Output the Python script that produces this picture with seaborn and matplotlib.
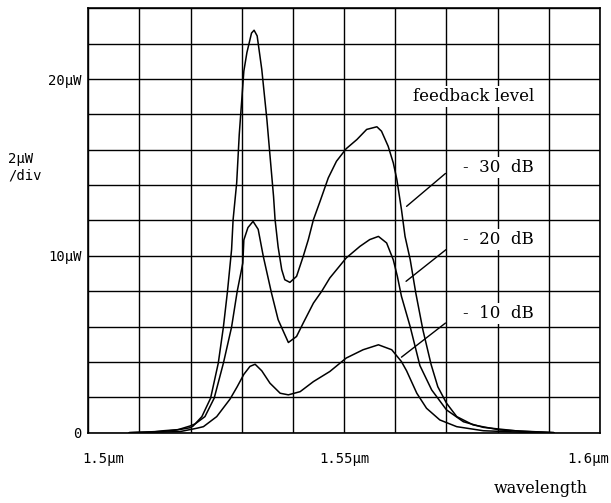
import numpy as np
import pandas as pd
import seaborn as sns
import matplotlib
matplotlib.use("Agg")
import matplotlib.pyplot as plt
from matplotlib.transforms import ScaledTranslation

# ---- data ----
wl_30 = [1.508, 1.5121, 1.5147, 1.5179, 1.5199, 1.5205, 1.5222, 1.5239, 1.5254, 1.5264,
         1.5272, 1.5280, 1.5283, 1.5290, 1.5295, 1.5304, 1.5310, 1.5319, 1.5324, 1.5330,
         1.5339, 1.5349, 1.5355, 1.5362, 1.5365, 1.5371, 1.5378, 1.5384, 1.5394, 1.5407,
         1.5420, 1.5430, 1.5440, 1.5453, 1.5469, 1.5485, 1.5504, 1.5525, 1.5544, 1.5564,
         1.5573, 1.5586, 1.5596, 1.5603, 1.5606, 1.5612, 1.5619, 1.5629, 1.5640, 1.5654,
         1.5670, 1.5683, 1.5700, 1.5720, 1.5752, 1.5805, 1.5869, 1.591]
p_30 = [0, 0.02, 0.11, 0.18, 0.28, 0.38, 0.91, 1.95, 3.93, 5.97,
        7.99, 10.35, 12.05, 14.13, 16.86, 20.45, 21.5, 22.6, 22.76, 22.44,
        20.55, 17.72, 15.7, 13.37, 12.05, 10.5, 9.22, 8.65, 8.5, 8.84,
        9.97, 10.92, 12.05, 13.09, 14.41, 15.35, 16.06, 16.58, 17.15, 17.3,
        17.05, 16.2, 15.26, 14.32, 13.75, 12.62, 11.1, 9.8, 7.9, 5.8,
        3.85, 2.6, 1.67, 0.91, 0.44, 0.15, 0.06, 0.0]

wl_20 = [1.508, 1.5147, 1.5173, 1.5199, 1.5209, 1.5228, 1.5246, 1.5264, 1.5280, 1.5291,
         1.5302, 1.5304, 1.5312, 1.5322, 1.5332, 1.5342, 1.5358, 1.5371, 1.5391, 1.5407,
         1.5420, 1.5440, 1.5456, 1.5472, 1.5504, 1.5531, 1.5550, 1.5567, 1.5583, 1.5596,
         1.5604, 1.5612, 1.5629, 1.5648, 1.5671, 1.5700, 1.5733, 1.5772, 1.5844, 1.591]
p_20 = [0, 0.08, 0.15, 0.38, 0.5, 0.91, 1.95, 3.93, 5.97, 7.99,
        9.6, 10.9, 11.6, 11.95, 11.5, 9.97, 7.9, 6.39, 5.1, 5.44,
        6.2, 7.33, 7.99, 8.75, 9.88, 10.54, 10.92, 11.1, 10.73, 9.78,
        8.84, 7.71, 6.0, 3.8, 2.42, 1.29, 0.62, 0.3, 0.08, 0.0]

wl_10 = [1.508, 1.5179, 1.5212, 1.5225, 1.5251, 1.5277, 1.5291, 1.5304, 1.5316, 1.5326,
         1.5339, 1.5355, 1.5375, 1.5391, 1.5414, 1.5440, 1.5472, 1.5504, 1.5537, 1.5567,
         1.5593, 1.5612, 1.5622, 1.5642, 1.5661, 1.5687, 1.5720, 1.5772, 1.5844, 1.591]
p_10 = [0, 0.06, 0.25, 0.34, 0.91, 1.9, 2.6, 3.3, 3.75, 3.87,
        3.5, 2.8, 2.23, 2.14, 2.32, 2.89, 3.46, 4.22, 4.69, 4.97,
        4.69, 4.02, 3.5, 2.23, 1.38, 0.72, 0.34, 0.11, 0.03, 0.0]

levels = ["-  30  dB", "-  20  dB", "-  10  dB"]
label_y = [15.0, 10.91, 6.73]
pointer_from = [(1.5698, 14.66), (1.5699, 10.35), (1.5698, 6.20)]
pointer_to = [(1.5622, 12.80), (1.5621, 8.56), (1.5612, 4.27)]

x_ticks = [1.5, 1.55, 1.6]
x_ticklabels = ["1.5\u03bcm", "1.55\u03bcm", "1.6\u03bcm"]
y_ticks = list(range(0, 25, 2))
y_ticklabels = {0: "0", 10: "10\u03bcW", 20: "20\u03bcW"}

df = pd.concat([
    pd.DataFrame({"wavelength": wl_30, "power": p_30, "level": "-30 dB"}),
    pd.DataFrame({"wavelength": wl_20, "power": p_20, "level": "-20 dB"}),
    pd.DataFrame({"wavelength": wl_10, "power": p_10, "level": "-10 dB"}),
])

sns.set_theme(style="white")
plt.rcParams["font.family"] = ["DejaVu Sans"]
for k in ["text.color", "axes.labelcolor", "xtick.color", "ytick.color", "axes.edgecolor"]:
    plt.rcParams[k] = "black"

fig = plt.figure(figsize=(6.11, 5.03), dpi=100)
ax = fig.add_axes([0.1445, 0.1398, 0.8375, 0.8437])

sns.lineplot(data=df, x="wavelength", y="power", units="level", estimator=None,
             color="black", linewidth=1.1, ax=ax, legend=False)

ax.set_xlim(1.5, 1.6)
ax.set_ylim(0, 24)

# grid
ax.set_xticks(np.round(np.arange(1.5, 1.6001, 0.01), 3), minor=True)
ax.set_xticks(x_ticks)
ax.set_xticklabels(x_ticklabels, fontfamily="DejaVu Sans Mono", fontsize=10)
ax.set_yticks(y_ticks)
ax.set_yticklabels([y_ticklabels.get(v, "") for v in y_ticks],
                   fontfamily="DejaVu Sans Mono", fontsize=10)
ax.grid(True, which="both", color="black", linewidth=1.0)
ax.tick_params(axis="both", which="both", length=0, colors="black")
ax.tick_params(axis="x", pad=14)
ax.tick_params(axis="y", pad=5)
for s in ax.spines.values():
    s.set_color("black")
    s.set_linewidth(1.2)

xl = ax.get_xticklabels()
xl[0].set_ha("left")
xl[0].set_transform(xl[0].get_transform() + ScaledTranslation(-6 / 100, 0, fig.dpi_scale_trans))
xl[-1].set_ha("right")
xl[-1].set_transform(xl[-1].get_transform() + ScaledTranslation(9 / 100, 0, fig.dpi_scale_trans))

ax.set_xlabel("wavelength", loc="right", fontfamily="DejaVu Serif", fontsize=11.5, color="black")
ax.xaxis.set_label_coords(0.9766, -0.112)
ax.set_ylabel("")

fig.text(8 / 611, 1 - 167 / 503, "2\u03bcW\n/div", ha="left", va="center",
         fontfamily="DejaVu Sans Mono", fontsize=10, linespacing=1.2, color="black")

box = dict(facecolor="white", edgecolor="none", pad=1.5)
ax.text(1.5634, 19.04, "feedback level", ha="left", va="center", color="black",
        fontfamily="DejaVu Serif", fontsize=12, bbox=box, zorder=5)
for lab, ly, p0, p1 in zip(levels, label_y, pointer_from, pointer_to):
    ax.text(1.5732, ly, lab, ha="left", va="center", color="black",
            fontfamily="DejaVu Serif", fontsize=12, bbox=box, zorder=5)
    ax.annotate("", xy=p1, xytext=p0,
                arrowprops=dict(arrowstyle="-", color="black", lw=1.0,
                                shrinkA=0, shrinkB=0), zorder=6)

fig.savefig("out.png", dpi=100)
